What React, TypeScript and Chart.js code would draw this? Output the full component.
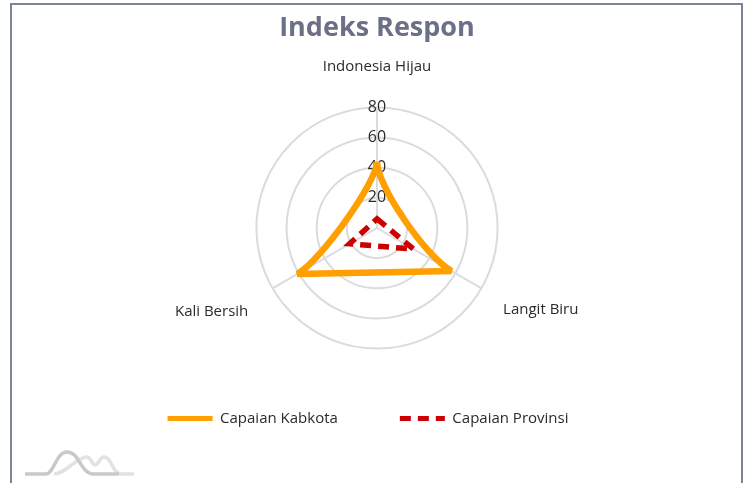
import React, { useEffect, useRef } from "react";
import { Chart, registerables } from "chart.js";

Chart.register(...registerables);

const categories = ["Indonesia Hijau", "Langit Biru", "Kali Bersih"];
const capaianKabkota = [44, 57, 61];
const capaianProvinsi = [6, 28, 21];
const radialTicks = [0, 20, 40, 60, 80];

const FONT = '"Open Sans", "Noto Sans", sans-serif';

// How far each edge of the orange curve bends toward the chart centre.
const edgeBend = [0.36, 0, 0.3];

const bendEdges = {
  id: "bendEdges",
  beforeDatasetDraw(chart: any, args: any) {
    if (args.index !== 0) return;
    const line = args.meta.dataset;
    line.updateControlPoints(chart.chartArea);
    const pts = line.points;
    const { xCenter, yCenter } = chart.scales.r;
    pts.forEach((p: any, i: number) => {
      const n = pts[(i + 1) % pts.length];
      const k = edgeBend[i];
      p.cp2x = p.x + k * (xCenter - p.x);
      p.cp2y = p.y + k * (yCenter - p.y);
      n.cp1x = n.x + k * (xCenter - n.x);
      n.cp1y = n.y + k * (yCenter - n.y);
    });
  },
};

const shiftLegend = {
  id: "shiftLegend",
  afterLayout(chart: any) {
    chart.legend.left -= 9;
    chart.legend.right -= 9;
    chart.legend.top -= 31;
    chart.legend.bottom -= 31;
  },
};

export default function App() {
  const ref = useRef<HTMLCanvasElement>(null);
  useEffect(() => {
    const chart = new Chart(ref.current!, {
      type: "radar",
      plugins: [bendEdges, shiftLegend],
      data: {
        labels: categories,
        datasets: [
          {
            label: "Capaian Kabkota",
            data: capaianKabkota,
            borderColor: "#ff9f00",
            backgroundColor: "transparent",
            borderWidth: 6.5,
            tension: 0.01,
            pointRadius: 0,
            borderJoinStyle: "bevel",
          },
          {
            label: "Capaian Provinsi",
            data: capaianProvinsi,
            borderColor: "#cc0000",
            backgroundColor: "transparent",
            borderWidth: 5.5,
            borderDash: [11, 7],
            tension: 0,
            pointRadius: 0,
          },
        ],
      },
      options: {
        responsive: false,
        animation: false,
        layout: { padding: { top: 12, left: 4, right: 0, bottom: 16 } },
        plugins: {
          title: {
            display: true,
            text: "Indeks Respon",
            color: "#6b7086",
            font: { family: FONT, size: 27, weight: "bold" },
            padding: { top: 0, bottom: -7 },
          },
          legend: {
            position: "bottom",
            labels: {
              usePointStyle: true,
              pointStyle: "line",
              pointStyleWidth: 45,
              color: "#2b2b2b",
              font: { family: FONT, size: 15 },
              padding: 62,
              generateLabels(c: any) {
                return Chart.defaults.plugins.legend.labels
                  .generateLabels(c)
                  .map((item: any) => ({
                    ...item,
                    lineDash: c.data.datasets[item.datasetIndex].borderDash || [],
                    lineWidth: 5,
                    strokeStyle: c.data.datasets[item.datasetIndex].borderColor,
                  }));
              },
            },
          },
          tooltip: { enabled: false },
        },
        scales: {
          r: {
            min: 0,
            max: 80,
            afterBuildTicks: (s: any) => {
              s.ticks = radialTicks.map((value) => ({ value }));
            },
            ticks: {
              stepSize: 20,
              showLabelBackdrop: false,
              color: "#2b2b2b",
              font: { family: FONT, size: 16 },
            },
            grid: { circular: true, color: "#d9dbdf", lineWidth: 2 },
            angleLines: { color: "#d9dbdf", lineWidth: 2 },
            pointLabels: {
              color: "#2b2b2b",
              font: { family: FONT, size: 15 },
              padding: (ctx: any) => (ctx.index === 0 ? 22 : ctx.index === 2 ? 18 : 15),
            },
          },
        },
      },
    } as any);
    return () => chart.destroy();
  }, []);
  return (
    <div style={{ position: "fixed", inset: 0, overflow: "hidden", background: "#fff" }}>
      <div
        style={{
          position: "absolute",
          left: 10,
          top: 3,
          width: 729,
          height: 500,
          border: "2px solid #7b8497",
        }}
      />
      <svg style={{ position: "absolute", left: 0, top: 440 }} width="150" height="43" viewBox="0 440 150 43">
        <path
          d="M54 474 C66 474 76 457 87 457 C91 457 92 465 95 465 C98 465 100 457 104 457 C112 457 112 474 122 474 H134"
          fill="none"
          stroke="#e2e2e2"
          strokeWidth="3.5"
        />
        <path d="M25 474 H46 C54 474 56 452 67 452 C80 452 80 474 94 474 H119" fill="none" stroke="#c9c9c9" strokeWidth="3.5" />
      </svg>
      <canvas ref={ref} width={750} height={483} style={{ position: "absolute", left: 0, top: 0 }} />
    </div>
  );
}
